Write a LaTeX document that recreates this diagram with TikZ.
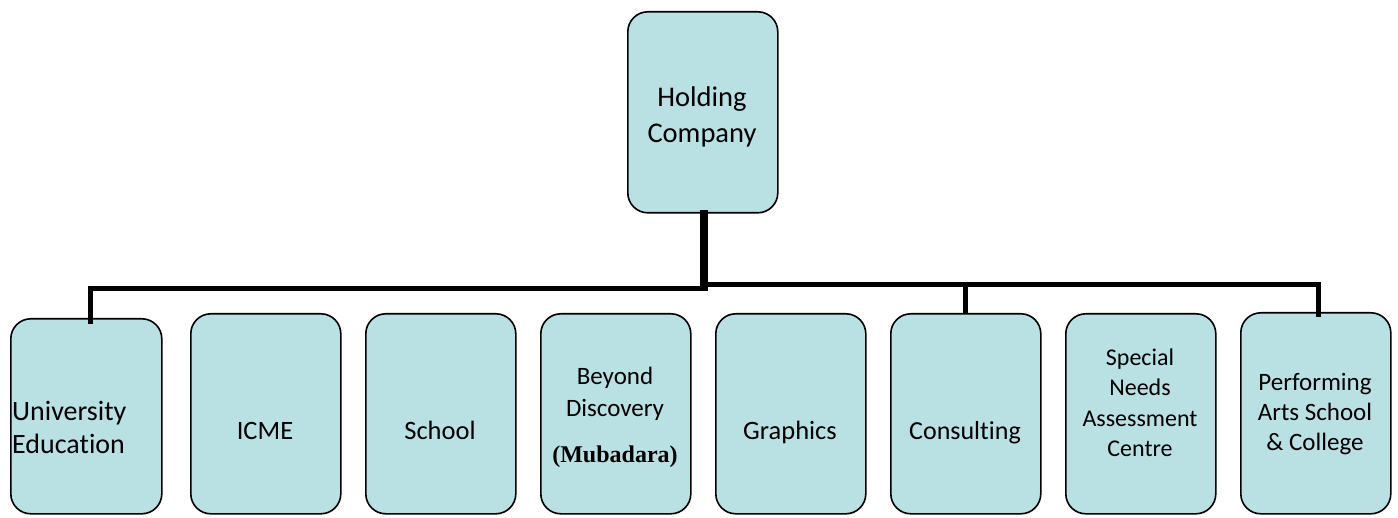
\documentclass[tikz,border=0pt]{standalone}
\usepackage{fontspec}
\setmainfont{Carlito}[Ligatures=NoCommon]
\newfontfamily\tnrfont{Liberation Serif}
\definecolor{boxfill}{RGB}{185,224,227}
\begin{document}
\begin{tikzpicture}[x=1pt,y=-1pt,
  orgbox/.style={draw=black,line width=1.6pt,fill=boxfill,rounded corners=20pt,
    minimum width=150pt,minimum height=200pt,inner sep=0pt,anchor=north west},
  lbl/.style={inner sep=0pt,align=center},
  conn/.style={line width=5pt,line cap=butt,line join=miter}]
\useasboundingbox (0,0) rectangle (1398,518);
\coordinate (jA) at (704,289);
\coordinate (jB) at (704,285);
\node[orgbox,minimum height=201pt] (hold) at (627,11) {};
\node[orgbox,minimum width=151pt,minimum height=195pt] (univ) at (10,318) {};
\node[orgbox] (icme) at (190,313) {};
\node[orgbox] (school) at (365,313) {};
\node[orgbox] (beyond) at (540,313) {};
\node[orgbox] (graph) at (715,313) {};
\node[orgbox] (consult) at (890,313) {};
\node[orgbox] (special) at (1065,313) {};
\node[orgbox,minimum height=201pt] (perf) at (1240,312) {};
\draw[line width=8pt] (hold.south -| jA) ++(0,-4) -- (704,291);
\draw[conn] (jA) -| ([yshift=-6pt]univ.north -| 90,0);
\draw[conn] (jB) -| ([yshift=-1pt]consult.north -| 965,0);
\draw[conn] (jB) -| ([yshift=-5pt]perf.north -| 1318,0);
% labels
\node[lbl,font=\fontsize{28.5}{36}\selectfont] at (702,117) {Holding\\Company};
\node[lbl,align=left,anchor=west,font=\fontsize{28}{33}\selectfont] at (12,427) {University\\Education};
\node[lbl,anchor=base,font=\fontsize{26.5}{30}\selectfont] at (265,440) {ICME};
\node[lbl,anchor=base,font=\fontsize{26.5}{30}\selectfont] at (440,440) {School};
\node[lbl,font=\fontsize{25}{32}\selectfont] at (615,394) {Beyond\\Discovery};
\node[lbl,anchor=base,font=\tnrfont\bfseries\fontsize{24}{28}\selectfont] at (615,462) {(Mubadara)};
\node[lbl,anchor=base,font=\fontsize{26.5}{30}\selectfont] at (790,440) {Graphics};
\node[lbl,anchor=base,font=\fontsize{26}{30}\selectfont] at (965,440) {Consulting};
\node[lbl,font=\fontsize{24}{30.5}\selectfont] at (1140,403) {Special\\Needs\\Assessment\\Centre};
\node[lbl,font=\fontsize{25}{30}\selectfont] at (1315,414) {Performing\\Arts School\\\& College};
\end{tikzpicture}
\end{document}
